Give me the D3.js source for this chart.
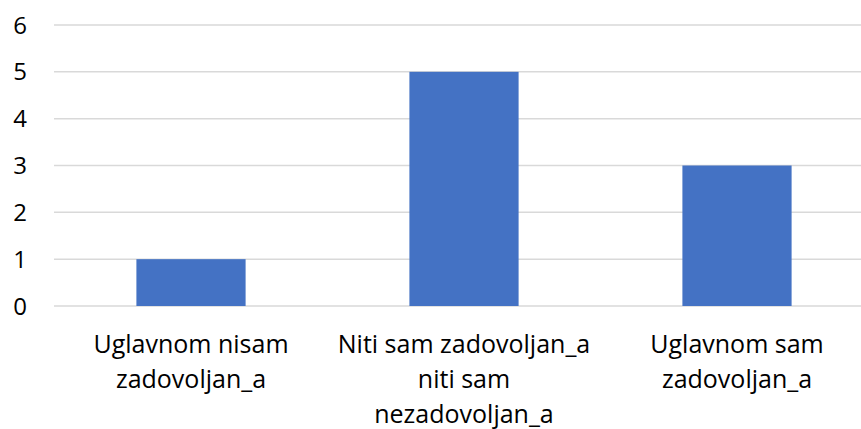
<!DOCTYPE html>
<html>
<head>
<meta charset="utf-8">
<script src="https://cdn.jsdelivr.net/npm/d3@7"></script>
<style>
  body { margin: 0; background: #fff; }
  text { font-family: 'Open Sans', sans-serif; fill: #000; }
</style>
</head>
<body>
<script>
// data
var categories = ['Uglavnom nisam\nzadovoljan_a', 'Niti sam zadovoljan_a\nniti sam\nnezadovoljan_a', 'Uglavnom sam\nzadovoljan_a']
var values = [1, 5, 3]
var yTicks = [0, 1, 2, 3, 4, 5, 6]

var width = 861
var height = 429

var x = d3.scaleBand().domain(categories).range([54.5, 873.5]).paddingInner(0.6).paddingOuter(0.3)
var y = d3.scaleLinear().domain([0, 6]).range([306, 25])

var svg = d3.select('body').append('svg')
  .attr('width', width)
  .attr('height', height)

// gridlines
svg.append('g').selectAll('line')
  .data(yTicks)
  .enter().append('line')
  .attr('x1', 54)
  .attr('x2', 874)
  .attr('y1', d => y(d))
  .attr('y2', d => y(d))
  .style('stroke', '#d9d9d9')
  .style('stroke-width', '1.5px')

// y labels
svg.append('g').selectAll('text')
  .data(yTicks)
  .enter().append('text')
  .attr('x', 27)
  .attr('y', d => y(d))
  .attr('dy', '0.36em')
  .attr('text-anchor', 'end')
  .attr('font-size', '24px')
  .text(d => d)

// bars
svg.append('g').selectAll('rect')
  .data(values)
  .enter().append('rect')
  .attr('x', (d, i) => x(categories[i]))
  .attr('width', x.bandwidth())
  .attr('y', d => y(d))
  .attr('height', d => y(0) - y(d))
  .style('fill', '#4472c4')

// category labels
var labels = svg.append('g').selectAll('text')
  .data(categories)
  .enter().append('text')
  .attr('text-anchor', 'middle')
  .attr('font-size', '25px')
  .attr('y', 353)

labels.selectAll('tspan')
  .data(d => d.split('\n').map(line => ({line: line, cat: d})))
  .enter().append('tspan')
  .attr('x', d => x(d.cat) + x.bandwidth() / 2)
  .attr('dy', (d, i) => i === 0 ? 0 : 35)
  .text(d => d.line)
</script>
</body>
</html>
